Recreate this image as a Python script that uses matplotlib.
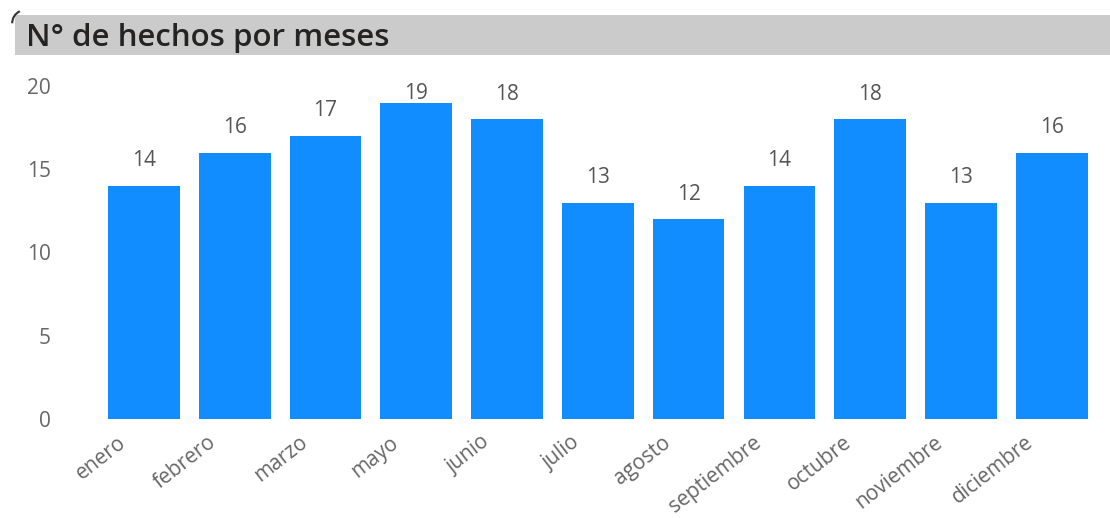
import matplotlib
matplotlib.use("Agg")
import matplotlib.pyplot as plt
from matplotlib.patches import Rectangle, Arc
from matplotlib.transforms import ScaledTranslation

months = ["enero", "febrero", "marzo", "mayo", "junio", "julio", "agosto",
          "septiembre", "octubre", "noviembre", "diciembre"]
counts = [14, 16, 17, 19, 18, 13, 12, 14, 18, 13, 16]
yticks = [0, 5, 10, 15, 20]
title = "N° de hechos por meses"

plt.rcParams['font.family'] = ['Open Sans', 'DejaVu Sans']

fig = plt.figure(figsize=(11.1, 5.18), dpi=100)
fig.patch.set_facecolor("white")

# title bar
fig.patches.append(Rectangle((0.0135, 0.894), 0.9865, 0.077, transform=fig.transFigure,
                             facecolor="#cbcbcb", edgecolor="none", zorder=0))
fig.patches.append(Arc((0.022, 0.955), 0.022, 0.05, theta1=100, theta2=180,
                       transform=fig.transFigure, color="#333333", lw=1.5))
fig.text(0.023, 0.927, title, fontsize=22.5, fontweight="semibold",
         color="#252423", va="center", ha="left")

ax = fig.add_axes([0.0806, 0.1911, 0.916, 0.643])
x = list(range(len(months)))
ax.bar(x, counts, width=0.79, color="#118DFF", zorder=2)
ax.set_xlim(-0.6, len(months) - 0.4)
ax.set_ylim(0, 20)
ax.set_yticks(yticks)
ax.set_yticklabels([str(t) for t in yticks], fontsize=15, color="#666666")
ax.set_xticks(x)
ax.set_xticklabels([])
offset = ScaledTranslation(-27 / 100, -13 / 100, fig.dpi_scale_trans)
for i, m in zip(x, months):
    ax.text(i, 0, m, rotation=38, ha="right", va="top", rotation_mode="anchor",
            fontsize=15, color="#666666",
            transform=ax.get_xaxis_transform() + offset)
ax.tick_params(axis="x", length=0, pad=6)
ax.tick_params(axis="y", length=0, pad=28)
for s in ax.spines.values():
    s.set_visible(False)

for i, v in zip(x, counts):
    ax.annotate(str(v), xy=(i, min(v + 1.5, 19.55)), ha="center", va="center",
                fontsize=15, color="#555555", annotation_clip=False, zorder=3)

fig.savefig("out.png", dpi=100)
